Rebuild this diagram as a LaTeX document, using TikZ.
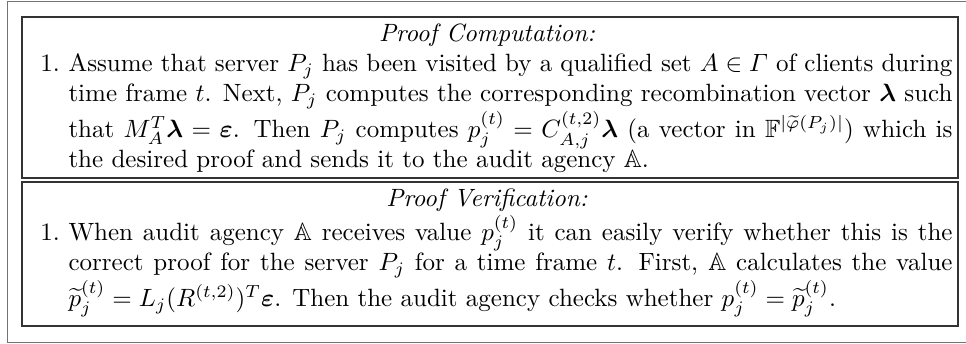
\documentclass[tikz,border=0pt]{standalone}
\usepackage{amsfonts, amsmath, amssymb}
\usepackage{xcolor}
\usepackage{tikz}

\newdimen\pxu \pxu=0.4pt

\begin{document}
\begin{tikzpicture}%
                [x=\pxu, y=-\pxu,
                frame/.style={draw=black!55, line width=1\pxu},
                panel/.style={draw=black!80, line width=1.5\pxu},
                heading/.style={anchor=base, inner sep=0pt, font=\itshape},
                steplabel/.style={anchor=base west, inner sep=0pt},
                steptext/.style={anchor=base west, inner sep=0pt, text width=884\pxu, align=justify}]

            \useasboundingbox (0,0) rectangle (966,344);
            \clip (0,0) rectangle (966,344);
            %% Outer frame
            \draw[frame] (7,1.5) rectangle (972,342.7);
            %%
            %% Proof computation
            %%
            \draw[panel] (22,17) rectangle (958,178);
            \node[heading] (comptitle) at (487,42) {Proof Computation:};
            \node[steplabel] (complabel) at (40,72) {1.};
            \node[steptext] (compstep) at (68,72) {Assume that server $P_j$ has been visited by a qualified set $A\in\varGamma$ of clients during\linebreak
                time frame $t$. Next, $P_j$ computes the corresponding recombination vector $\boldsymbol{\lambda}$ such\linebreak
                that $M_A^T\boldsymbol{\lambda}=\boldsymbol{\varepsilon}$. Then $P_j$ computes $p_j^{(t)}=C_{A,j}^{(t,2)}\boldsymbol{\lambda}$ (a vector in $\mathbb{F}^{|\widetilde{\varphi}(P_j)|}$) which is\linebreak
                the desired proof and sends it to the audit agency $\mathbb{A}$.};
            %%
            %% Proof verification
            %%
            \draw[panel] (22,182) rectangle (958,326);
            \node[heading] (verititle) at (487,207) {Proof Verification:};
            \node[steplabel] (verilabel) at (40,241) {1.};
            \node[steptext] (veristep) at (68,241) {When audit agency $\mathbb{A}$ receives value $p_j^{(t)}$ it can easily verify whether this is the\linebreak
                correct proof for the server $P_j$ for a time frame $t$. First, $\mathbb{A}$ calculates the value\linebreak
                $\widetilde{p}_j^{(t)}=L_j(R^{(t,2)})^T\boldsymbol{\varepsilon}$. Then the audit agency checks whether $p_j^{(t)}=\widetilde{p}_j^{(t)}$.};
            %%
            %%
            \end{tikzpicture}
\end{document}
